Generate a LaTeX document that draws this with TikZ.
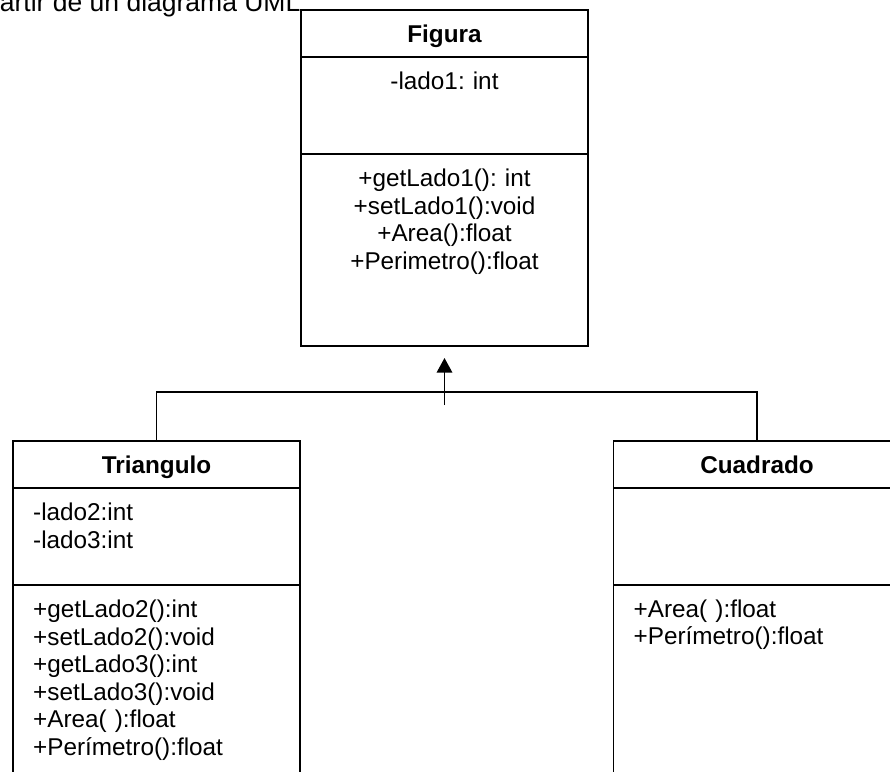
\documentclass[tikz,border=0pt]{standalone}
\usepackage{fontspec}
\setmainfont{Liberation Sans}
\usetikzlibrary{arrows.meta,positioning}

\newcommand{\umlsize}{\fontsize{24.3pt}{27.5pt}\selectfont\frenchspacing}

\begin{document}
\begin{tikzpicture}[
  x=1pt, y=-1pt,
  font=\umlsize,
  >=Triangle,
  classhead/.style={draw, line width=1.8pt, outer sep=0pt, inner sep=0pt, minimum width=287pt, minimum height=47pt, text height=17.5pt, text depth=0pt, font=\umlsize\bfseries},
  compart/.style={draw, line width=1.8pt, outer sep=0pt, inner sep=0pt, minimum width=287pt},
  members/.style={inner sep=0pt, text width=250pt, align=left, anchor=base west},
  cmembers/.style={inner sep=0pt, text width=287pt, align=center, anchor=base},
  line/.style={line width=1.8pt},
  inherit/.style={-{Triangle[length=14.5pt, width=15.5pt]}, line width=1.3pt, shorten >=12pt}
]
\useasboundingbox (0,0) rectangle (890,771);
\clip (0,0) rectangle (890,771);

% text cut off above the picture
\node[inner sep=0pt, anchor=base west, font=\fontsize{26.5pt}{28pt}\selectfont] (intro) at (-0.3,12) {artir de un diagrama UML};

% Superclass
\node[classhead] (fig) at (444.5,33.5) {Figura};
\node[compart, minimum height=97pt, below=0pt of fig] (fig-attr) {};
\node[compart, minimum height=192pt, below=0pt of fig-attr] (fig-meth) {};
\node[below=32.5pt of fig-attr.north, cmembers] (fig-a) {-lado1: int};
\node[below=32.5pt of fig-meth.north, cmembers] (fig-m) {+getLado1(): int\\+setLado1():void\\+Area():float\\+Perimetro():float};

% Subclasses
\node[classhead] (tri) at (156.5,464.5) {Triangulo};
\node[compart, minimum height=97pt, below=0pt of tri] (tri-attr) {};
\node[compart, minimum height=250pt, below=0pt of tri-attr] (tri-meth) {};
\node[below right=32.5pt and 20pt of tri-attr.north west, members] (tri-a) {-lado2:int\\-lado3:int};
\node[below right=32.5pt and 20pt of tri-meth.north west, members] (tri-m) {+getLado2():int\\+setLado2():void\\+getLado3():int\\+setLado3():void\\+Area( ):float\\+Perímetro():float};

\node[classhead] (cua) at (757,464.5) {Cuadrado};
\node[compart, minimum height=97pt, below=0pt of cua] (cua-attr) {};
\node[compart, minimum height=250pt, below=0pt of cua-attr] (cua-meth) {};
\node[below right=32pt and 20pt of cua-meth.north west, members] (cua-m) {+Area( ):float\\+Perímetro():float};

% Generalization
\coordinate (bus) at (444.5,392);
\coordinate (tail) at (444.5,405);
\draw[line] (tri.north) |- (bus) -| (cua.north);
\draw[inherit] (tail) -- (fig-meth.south);

\end{tikzpicture}
\end{document}
